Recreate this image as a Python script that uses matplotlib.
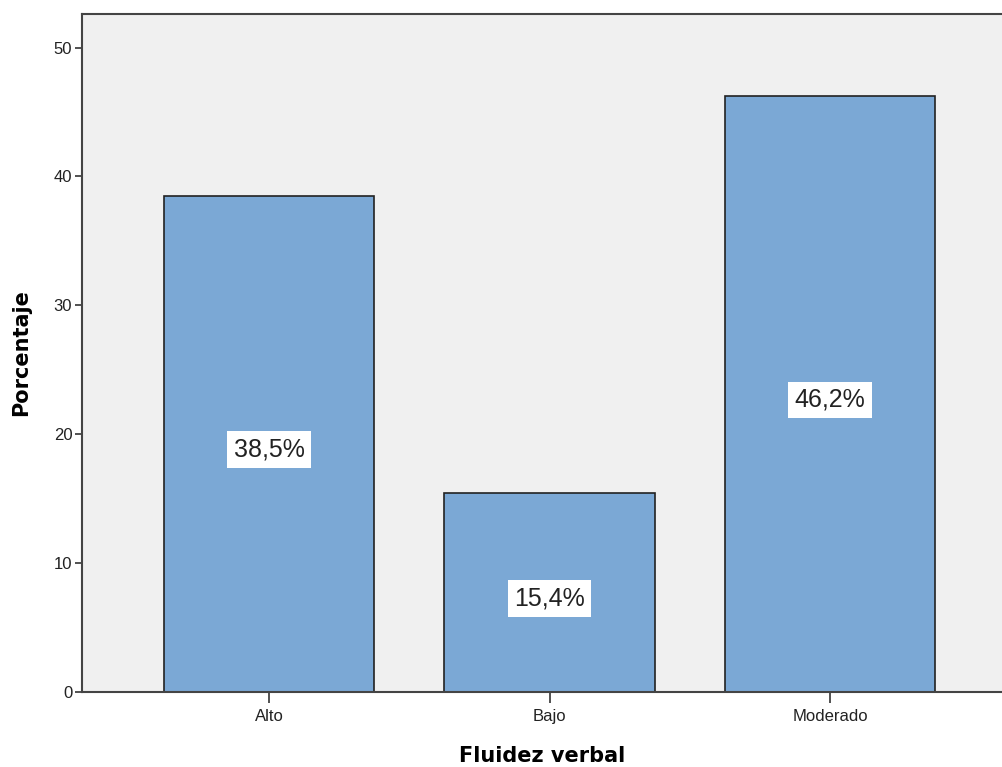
import matplotlib
matplotlib.use("Agg")
import matplotlib.pyplot as plt

categories = ["Alto", "Bajo", "Moderado"]
percentages = [38.5, 15.4, 46.2]
value_labels = ["38,5%", "15,4%", "46,2%"]
y_ticks = [0, 10, 20, 30, 40, 50]

plt.rcParams['font.family'] = ['Liberation Sans', 'DejaVu Sans']

fig = plt.figure(figsize=(10.03, 7.67), dpi=100)
ax = fig.add_axes([82 / 1003, 75 / 767, 921 / 1003, 678 / 767])
ax.set_facecolor('#f0f0f0')

x = list(range(len(categories)))
ax.bar(x, percentages, width=0.75, color='#7ba8d5', edgecolor='#222222',
       linewidth=1.2, zorder=2)

# value labels in white boxes, centred on each bar
for xi, val, lab in zip(x, percentages, value_labels):
    ax.annotate(lab, (xi, val / 2), xytext=(0, -4), textcoords='offset points',
                ha='center', va='center', fontsize=18, color='#222222',
                zorder=3,
                bbox=dict(boxstyle='square,pad=0.25', facecolor='white',
                          edgecolor='none'))

ax.set_xlim(-0.667, 2.617)
ax.set_ylim(0, 52.6)
ax.set_xticks(x)
ax.set_xticklabels(categories, fontsize=12)
ax.set_yticks(y_ticks)
ax.tick_params(axis='y', labelsize=12, length=5, width=1.2, color='#333333',
               pad=2, labelcolor='#222222')
ax.tick_params(axis='x', length=8, width=1.2, color='#333333', pad=4,
               labelcolor='#222222')

for side in ['left', 'bottom', 'top']:
    ax.spines[side].set_color('#444444')
    ax.spines[side].set_linewidth(1.5)
ax.spines['right'].set_visible(False)

ax.set_xlabel('Fluidez verbal', fontsize=15, fontweight='bold',
              family='DejaVu Sans', labelpad=16)
ax.set_ylabel('Porcentaje', fontsize=15, fontweight='bold',
              family='DejaVu Sans', labelpad=16)

fig.savefig('out.png', dpi=100)
